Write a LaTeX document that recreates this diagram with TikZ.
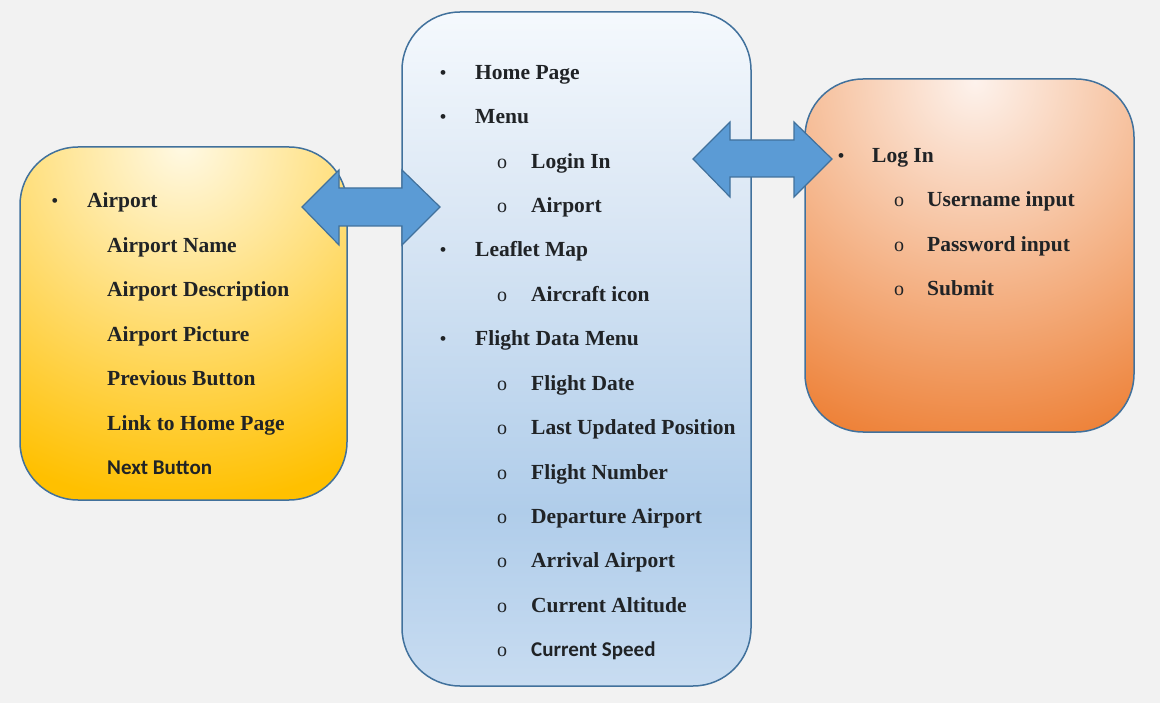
\documentclass[tikz,border=0pt]{standalone}
\usepackage{fontspec}
\setmainfont{Liberation Serif}
\newfontfamily\sansb{Carlito}
\definecolor{bg}{HTML}{F2F2F2}
\definecolor{bord}{HTML}{41719C}
\definecolor{arrowfill}{HTML}{5B9BD5}
\definecolor{txt}{HTML}{202326}
\definecolor{mtop}{HTML}{F5F9FD}
\definecolor{mmid}{HTML}{DCE8F5}
\definecolor{mdark}{HTML}{B0CDEA}
\definecolor{mbot}{HTML}{C8DCF1}
\definecolor{ylight}{HTML}{FFF9E4}
\definecolor{ydark}{HTML}{FFC000}
\definecolor{olight}{HTML}{FDF2EC}
\definecolor{odark}{HTML}{ED7D31}
\pgfdeclareverticalshading{midshade}{100bp}{color(0bp)=(mbot); color(25bp)=(mbot); color(38bp)=(mdark); color(61bp)=(mmid); color(75bp)=(mtop); color(100bp)=(mtop)}
\begin{document}
\begin{tikzpicture}[x=1pt,y=-1pt,
  item/.style={anchor=base west, inner sep=0pt, text=txt, font=\fontsize{21.5}{24}\selectfont\bfseries},
  sitem/.style={anchor=base west, inner sep=0pt, text=txt, font=\sansb\fontsize{21}{24}\selectfont\bfseries},
  bul/.style={anchor=base, inner sep=0pt, text=txt, font=\fontsize{20}{22}\selectfont},
  circ/.style={anchor=base, inner sep=0pt, text=txt, font=\fontsize{20}{22}\selectfont},
  boxline/.style={draw=bord, line width=1.5pt, rounded corners=58pt},
  blockarrow/.style={fill=arrowfill, draw=bord, line width=1.2pt, line join=miter}]
\useasboundingbox (0,0) rectangle (1160,703);
\fill[bg] (0,0) rectangle (1160,703);

% middle box
\shade[shading=midshade] [rounded corners=58pt] (402,12) rectangle (751,686);
\draw[boxline] (402,12) rectangle (751,686);

% left box
\begin{scope}
  \clip[rounded corners=58pt] (20,147) rectangle (347,500);
  \fill[ydark] (20,147) rectangle (347,500);
  \shade[inner color=ylight, outer color=ydark] (183,145) circle (360);
\end{scope}
\draw[boxline] (20,147) rectangle (347,500);

% right box
\begin{scope}
  \clip[rounded corners=58pt] (805,79) rectangle (1134,432);
  \fill[odark] (805,79) rectangle (1134,432);
  \shade[inner color=olight, outer color=odark] (975,82) circle (385);
\end{scope}
\draw[boxline] (805,79) rectangle (1134,432);

% arrows
\coordinate (la) at (302,207);
\coordinate (lb) at (440,207);
\draw[blockarrow] (la) -- (339,170) -- (339,188) -- (402,188) -- (402,170) -- (lb)
  -- (402,245) -- (402,226) -- (339,226) -- (339,245) -- cycle;
\coordinate (ra) at (693,159);
\coordinate (rb) at (832,159);
\draw[blockarrow] (ra) -- (730,122) -- (730,140) -- (794,140) -- (794,122) -- (rb)
  -- (794,197) -- (794,177) -- (730,177) -- (730,197) -- cycle;

% middle text
\node[bul] (mb1) at (443,80) {•};
\node[item] (m1) at (475,80) {Home Page};
\node[bul] (mb2) at (443,124) {•};
\node[item] (m2) at (475,124) {Menu};
\node[circ] (mc3) at (502,169) {o};
\node[item] (m3) at (531,169) {Login In};
\node[circ] (mc4) at (502,213) {o};
\node[item] (m4) at (531,213) {Airport};
\node[bul] (mb5) at (443,257) {•};
\node[item] (m5) at (475,257) {Leaflet Map};
\node[circ] (mc6) at (502,302) {o};
\node[item] (m6) at (531,302) {Aircraft icon};
\node[bul] (mb7) at (443,346) {•};
\node[item] (m7) at (475,346) {Flight Data Menu};
\node[circ] (mc8) at (502,391) {o};
\node[item] (m8) at (531,391) {Flight Date};
\node[circ] (mc9) at (502,435) {o};
\node[item] (m9) at (531,435) {Last Updated Position};
\node[circ] (mc10) at (502,479) {o};
\node[item] (m10) at (531,479) {Flight Number};
\node[circ] (mc11) at (502,523) {o};
\node[item] (m11) at (531,523) {Departure Airport};
\node[circ] (mc12) at (502,567) {o};
\node[item] (m12) at (531,567) {Arrival Airport};
\node[circ] (mc13) at (502,612) {o};
\node[item] (m13) at (531,612) {Current Altitude};
\node[circ] (mc14) at (502,656) {o};
\node[sitem] (m14) at (531,656) {Current Speed};

% left text
\node[bul] (lb1) at (55,208) {•};
\node[item] (l1) at (87,208) {Airport};
\node[item] (l2) at (107,253) {Airport Name};
\node[item] (l3) at (107,297) {Airport Description};
\node[item] (l4) at (107,342) {Airport Picture};
\node[item] (l5) at (107,386) {Previous Button};
\node[item] (l6) at (107,430) {Link to Home Page};
\node[sitem] (l7) at (107,474) {Next Button};

% right text
\node[bul] (rb1) at (841,163) {•};
\node[item] (r1) at (872,163) {Log In};
\node[circ] (rc2) at (899,207) {o};
\node[item] (r2) at (927,207) {Username input};
\node[circ] (rc3) at (899,252) {o};
\node[item] (r3) at (927,252) {Password input};
\node[circ] (rc4) at (899,296) {o};
\node[item] (r4) at (927,296) {Submit};
\end{tikzpicture}
\end{document}
